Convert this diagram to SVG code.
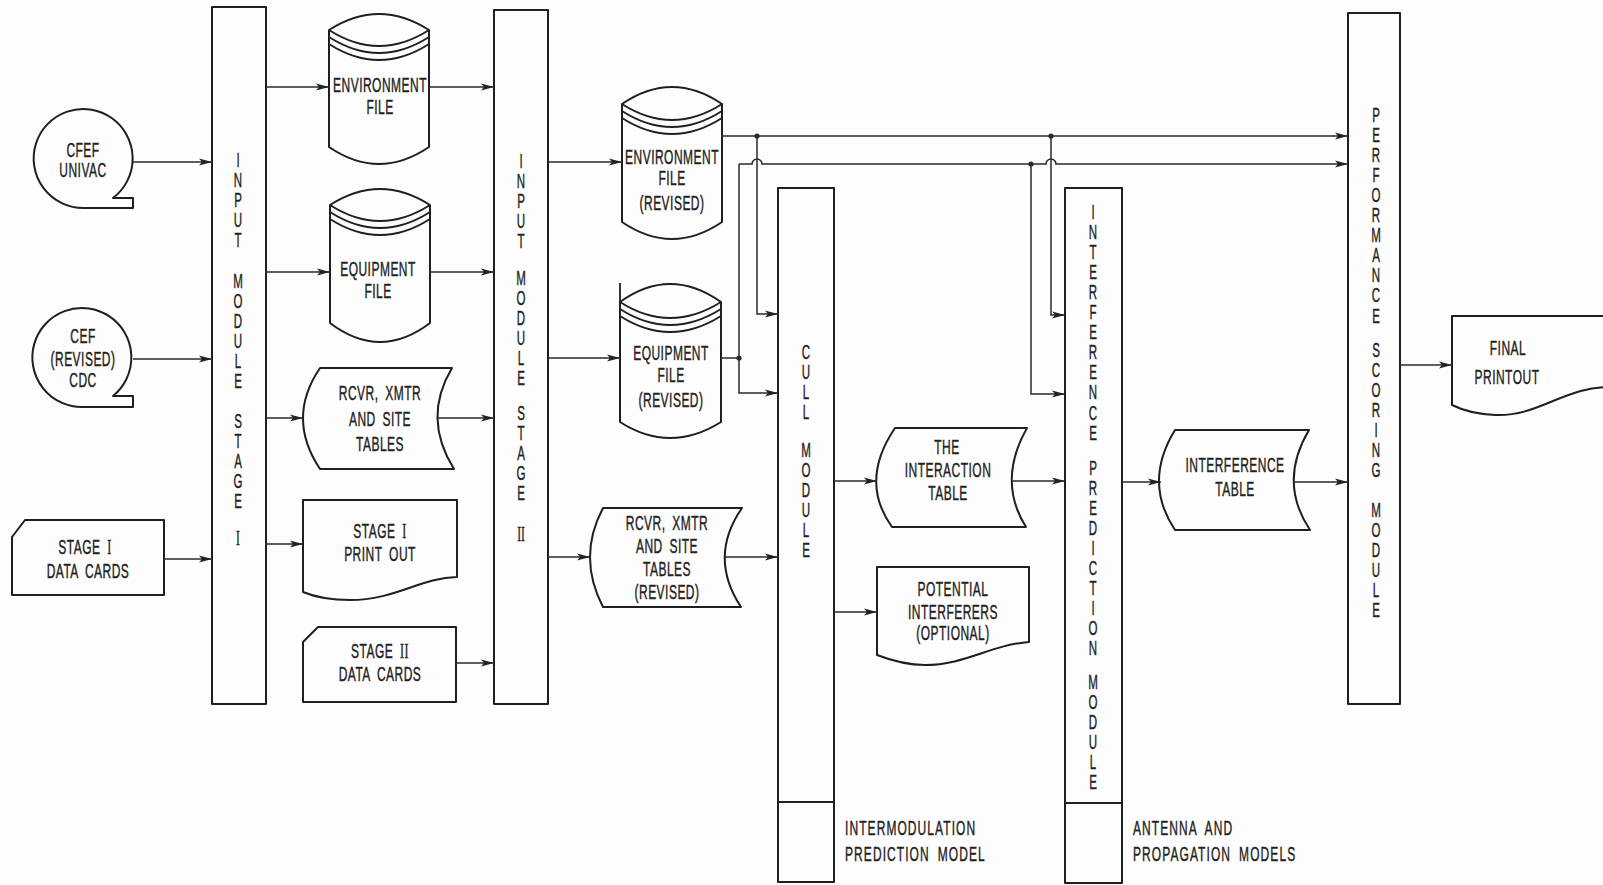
<svg xmlns="http://www.w3.org/2000/svg" width="1603" height="885" viewBox="0 0 1603 885">
<style>
.bg{fill:#fdfdfd}
.n{fill:none;stroke:#1f1f1f;stroke-width:2;stroke-linejoin:round}
.s{fill:none;stroke:#1f1f1f;stroke-width:1.8}
.t{font-family:'Liberation Sans',Arial,sans-serif;font-size:20px;fill:#222;stroke:#222;stroke-width:0.4;text-anchor:middle;letter-spacing:0.8px;word-spacing:5px}
.tl{font-family:'Liberation Sans',Arial,sans-serif;font-size:20px;fill:#222;stroke:#222;stroke-width:0.4;text-anchor:start;letter-spacing:1.8px;word-spacing:6px}
.v{font-family:'Liberation Sans',Arial,sans-serif;font-size:21px;fill:#222;stroke:#222;stroke-width:0.4;text-anchor:start;writing-mode:vertical-rl;text-orientation:upright;letter-spacing:-3.5px}
.vr{font-family:'Liberation Serif','Times New Roman',serif;font-size:21px;fill:#222;stroke:#222;stroke-width:0.4;text-anchor:middle}
.r{font-family:'Liberation Serif','Times New Roman',serif}
.c{fill:none;stroke:#2a2a2a;stroke-width:1.5;marker-end:url(#ah)}
.c0{fill:none;stroke:#2a2a2a;stroke-width:1.5}
.dot{fill:#2a2a2a}
</style>
<defs>
<marker id="ah" markerUnits="userSpaceOnUse" markerWidth="14" markerHeight="8" refX="13" refY="4" orient="auto">
<path d="M0,0.5 L13,4 L0,7.5 L3,4 Z" fill="#222"/>
</marker>
</defs>
<rect class="bg" x="0" y="0" width="1603" height="885"/>

<g id="cfef-univac">
<path class="n" d="M113,198 A49.5,49.5 0 1 0 83.5,208 L133,208 L133,198 Z"/>
<text class="t" transform="translate(83,0) scale(0.6,1)" y="157">CFEF</text>
<text class="t" transform="translate(83,0) scale(0.6,1)" y="177">UNIVAC</text>
</g>

<g id="cef-revised-cdc">
<path class="n" d="M113,396 A49.5,49.5 0 1 0 83.5,407 L133,407 L133,396 Z"/>
<text class="t" transform="translate(83,0) scale(0.6,1)" y="343">CEF</text>
<text class="t" transform="translate(83,0) scale(0.6,1)" y="366">(REVISED)</text>
<text class="t" transform="translate(83,0) scale(0.6,1)" y="387">CDC</text>
</g>

<g id="stage1-cards">
<path class="n" d="M25,520 H164 V595 H12 V537 Z"/>
<text class="t" transform="translate(85,0) scale(0.6,1)" y="554">STAGE <tspan class="r">I</tspan></text>
<text class="t" transform="translate(88,0) scale(0.6,1)" y="578">DATA CARDS</text>
</g>

<g id="input-module-stage1">
<rect class="n" x="212" y="7" width="54" height="697"/>
<g transform="translate(238,0) scale(0.55,1)">
<text class="v" x="0" y="148.5">INPUT</text>
<text class="v" x="0" y="269.5">MODULE</text>
<text class="v" x="0" y="409.5">STAGE</text>
<text class="vr" x="0" y="545">I</text>
</g>
</g>

<g id="environment-file">
<path class="n" d="M329,30 Q379,-2 429,30 L429,147 Q379,181 329,147 Z"/>
<path class="s" d="M329,30 Q379,62 429,30 M329,37 Q379,69 429,37 M329,44 Q379,76 429,44"/>
<text class="t" transform="translate(380,0) scale(0.6,1)" y="92">ENVIRONMENT</text>
<text class="t" transform="translate(380,0) scale(0.6,1)" y="114">FILE</text>
</g>

<g id="equipment-file">
<path class="n" d="M330,205 Q380,173 430,205 L430,323 Q380,361 330,323 Z"/>
<path class="s" d="M330,205 Q380,237 430,205 M330,212 Q380,244 430,212 M330,219 Q380,251 430,219"/>
<text class="t" transform="translate(378,0) scale(0.6,1)" y="276">EQUIPMENT</text>
<text class="t" transform="translate(378,0) scale(0.6,1)" y="298">FILE</text>
</g>

<g id="tables-stage1">
<path class="n" d="M320,368 H452 Q422,418 454,469 H320 Q286,418 320,368 Z"/>
<text class="t" transform="translate(380,0) scale(0.6,1)" y="400">RCVR, XMTR</text>
<text class="t" transform="translate(380,0) scale(0.6,1)" y="426">AND SITE</text>
<text class="t" transform="translate(380,0) scale(0.6,1)" y="451">TABLES</text>
</g>

<g id="stage1-printout">
<path class="n" d="M303,500 H457 V577 C420,578 395,600 350,600 C330,600 315,597 303,592 Z"/>
<text class="t" transform="translate(380,0) scale(0.6,1)" y="538">STAGE <tspan class="r">I</tspan></text>
<text class="t" transform="translate(380,0) scale(0.6,1)" y="561">PRINT OUT</text>
</g>

<g id="stage2-cards">
<path class="n" d="M318,627 H456 V702 H303 V642 Z"/>
<text class="t" transform="translate(380,0) scale(0.6,1)" y="658">STAGE <tspan class="r">II</tspan></text>
<text class="t" transform="translate(380,0) scale(0.6,1)" y="681">DATA CARDS</text>
</g>

<g id="input-module-stage2">
<rect class="n" x="494" y="10" width="54" height="694"/>
<g transform="translate(521,0) scale(0.55,1)">
<text class="v" x="0" y="149.5">INPUT</text>
<text class="v" x="0" y="266.5">MODULE</text>
<text class="v" x="0" y="401.5">STAGE</text>
<text class="vr" x="0" y="541">II</text>
</g>
</g>

<g id="environment-file-revised">
<path class="n" d="M622,104 Q672,70 722,104 L722,222 Q672,256 622,222 Z"/>
<path class="s" d="M622,104 Q672,136 722,104 M622,111 Q672,143 722,111 M622,118 Q672,150 722,118"/>
<text class="t" transform="translate(672,0) scale(0.6,1)" y="164">ENVIRONMENT</text>
<text class="t" transform="translate(672,0) scale(0.6,1)" y="185">FILE</text>
<text class="t" transform="translate(672,0) scale(0.6,1)" y="210">(REVISED)</text>
</g>

<g id="equipment-file-revised">
<path class="n" d="M620,302 Q670,266 721,302 L721,422 Q670,454 620,422 Z"/>
<path class="s" d="M620,283 V302 M620,302 Q670,334 721,302 M620,309 Q670,341 721,309 M620,316 Q670,348 721,316"/>
<text class="t" transform="translate(671,0) scale(0.6,1)" y="360">EQUIPMENT</text>
<text class="t" transform="translate(671,0) scale(0.6,1)" y="382">FILE</text>
<text class="t" transform="translate(671,0) scale(0.6,1)" y="407">(REVISED)</text>
</g>

<g id="tables-revised">
<path class="n" d="M603,508 H742 Q708,557 741,607 H603 Q577,557 603,508 Z"/>
<text class="t" transform="translate(667,0) scale(0.6,1)" y="530">RCVR, XMTR</text>
<text class="t" transform="translate(667,0) scale(0.6,1)" y="553">AND SITE</text>
<text class="t" transform="translate(667,0) scale(0.6,1)" y="576">TABLES</text>
<text class="t" transform="translate(667,0) scale(0.6,1)" y="599">(REVISED)</text>
</g>

<g id="cull-module">
<rect class="n" x="778" y="188" width="56" height="694"/>
<line class="s" x1="778" y1="802" x2="834" y2="802"/>
<g transform="translate(806,0) scale(0.55,1)">
<text class="v" x="0" y="340.5">CULL</text>
<text class="v" x="0" y="438.5">MODULE</text>
</g>
<text class="tl" transform="translate(845,0) scale(0.6,1)" y="835">INTERMODULATION</text>
<text class="tl" transform="translate(845,0) scale(0.6,1)" y="861">PREDICTION MODEL</text>
</g>

<g id="interaction-table">
<path class="n" d="M895,428 H1027 Q997,481 1026,527 H892 Q859,481 895,428 Z"/>
<text class="t" transform="translate(947,0) scale(0.6,1)" y="454">THE</text>
<text class="t" transform="translate(948,0) scale(0.6,1)" y="477">INTERACTION</text>
<text class="t" transform="translate(948,0) scale(0.6,1)" y="500">TABLE</text>
</g>

<g id="potential-interferers">
<path class="n" d="M877,567 H1029 V642 C990,645 965,665 925,665 C905,665 890,660 877,655 Z"/>
<text class="t" transform="translate(953,0) scale(0.6,1)" y="596">POTENTIAL</text>
<text class="t" transform="translate(953,0) scale(0.6,1)" y="619">INTERFERERS</text>
<text class="t" transform="translate(953,0) scale(0.6,1)" y="640">(OPTIONAL)</text>
</g>

<g id="interference-prediction-module">
<rect class="n" x="1065" y="188" width="57" height="695"/>
<line class="s" x1="1065" y1="803" x2="1122" y2="803"/>
<g transform="translate(1093,0) scale(0.55,1)">
<text class="v" x="0" y="200.5">INTERFERENCE</text>
<text class="v" x="0" y="456.5">PREDICTION</text>
<text class="v" x="0" y="670.5">MODULE</text>
</g>
<text class="tl" transform="translate(1133,0) scale(0.6,1)" y="835">ANTENNA AND</text>
<text class="tl" transform="translate(1133,0) scale(0.6,1)" y="861">PROPAGATION MODELS</text>
</g>

<g id="interference-table">
<path class="n" d="M1175,430 H1309 Q1278,482 1310,530 H1175 Q1143,482 1175,430 Z"/>
<text class="t" transform="translate(1235,0) scale(0.6,1)" y="472">INTERFERENCE</text>
<text class="t" transform="translate(1235,0) scale(0.6,1)" y="496">TABLE</text>
</g>

<g id="performance-scoring-module">
<rect class="n" x="1348" y="13" width="52" height="691"/>
<g transform="translate(1376,0) scale(0.55,1)">
<text class="v" x="0" y="103.5">PERFORMANCE</text>
<text class="v" x="0" y="338.5">SCORING</text>
<text class="v" x="0" y="498.5">MODULE</text>
</g>
</g>

<g id="final-printout">
<path class="n" d="M1452,316 H1615 V387 C1565,385 1540,417 1495,415 C1475,414 1462,410 1452,405 Z"/>
<text class="t" transform="translate(1508,0) scale(0.6,1)" y="355">FINAL</text>
<text class="t" transform="translate(1507,0) scale(0.6,1)" y="384">PRINTOUT</text>
</g>

<g id="connectors">
<path class="c" d="M133,162 H212"/>
<path class="c" d="M133,359 H212"/>
<path class="c" d="M164,559 H212"/>
<path class="c" d="M266,87 H329"/>
<path class="c" d="M266,272 H330"/>
<path class="c" d="M266,418 H303"/>
<path class="c" d="M266,544 H303"/>
<path class="c" d="M429,87 H494"/>
<path class="c" d="M430,272 H494"/>
<path class="c" d="M437,418 H494"/>
<path class="c" d="M456,663 H494"/>
<path class="c" d="M548,162 H622"/>
<path class="c" d="M548,358 H620"/>
<path class="c" d="M548,557 H590"/>
<path class="c" d="M725,557 H778"/>
<path class="c" d="M722,136 H1348"/>
<path class="c" d="M739,164 H752 A5,5 0 0 1 762,164 H1046 A5,5 0 0 1 1056,164 H1348"/>
<path class="c" d="M739,164 V393 H778"/>
<path class="c0" d="M721,358 H739"/>
<path class="c" d="M757,136 V314 H778"/>
<path class="c" d="M1051,136 V315 H1065"/>
<path class="c" d="M1031,164 V394 H1065"/>
<path class="c" d="M834,481 H877"/>
<path class="c" d="M834,612 H877"/>
<path class="c" d="M1012,481 H1065"/>
<path class="c" d="M1122,482 H1161"/>
<path class="c" d="M1294,482 H1348"/>
<path class="c" d="M1400,365 H1452"/>
<circle class="dot" cx="757" cy="136" r="2.6"/>
<circle class="dot" cx="739" cy="358" r="2.6"/>
<circle class="dot" cx="1051" cy="136" r="2.6"/>
<circle class="dot" cx="1031" cy="164" r="2.6"/>
</g>
</svg>
